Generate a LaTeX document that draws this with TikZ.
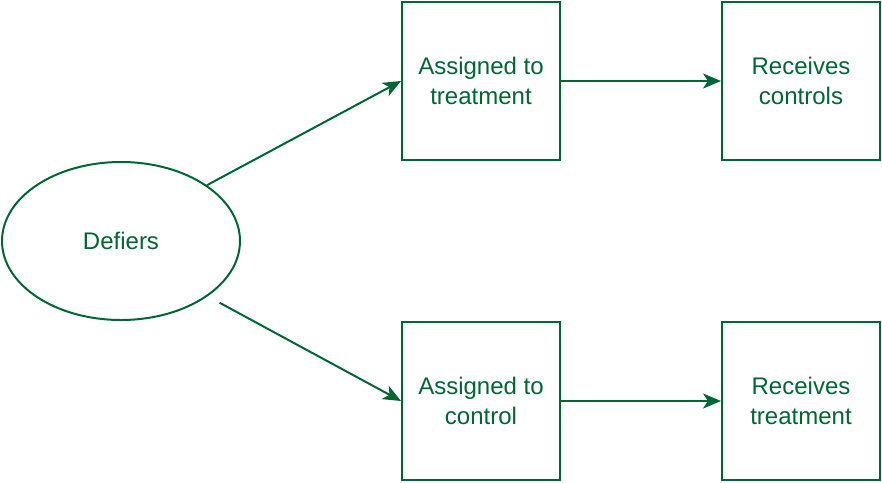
\documentclass[tikz,border=0pt]{standalone}
\usepackage{fontspec}
\setmainfont{Liberation Sans}
\usetikzlibrary{arrows.meta, positioning, shapes.geometric}
\definecolor{defGreen}{HTML}{006633}

\begin{document}
\begin{tikzpicture}[
    x=1pt, y=-1pt,
    node distance=160pt,
    box/.style={rectangle, draw=defGreen, line width=2pt, fill=white,
                minimum width=158pt, minimum height=158pt, inner sep=0pt,
                align=center, text=defGreen,
                font=\fontsize{24}{30}\selectfont},
    ell/.style={ellipse, draw=defGreen, line width=2pt, fill=white,
                minimum width=238pt, minimum height=158pt, inner sep=0pt,
                text=defGreen, font=\fontsize{24}{30}\selectfont},
    link/.style={draw=defGreen, line width=2pt,
                 -{Stealth[length=18pt, width=15pt, inset=5pt]}},
  ]
    \useasboundingbox (0,0) rectangle (882,482);

    \node[ell] (def) at (121,241) {Defiers};
    \node[box] (asgT) at (481,81) {Assigned to\\treatment};
    \node[box, right=of asgT] (recC) {Receives\\controls};
    \node[box] (asgC) at (481,401) {Assigned to\\control};
    \node[box, right=of asgC] (recT) {Receives\\treatment};

    \draw[link] (def.33) -- (asgT.west);
    \draw[link] ([xshift=11pt,yshift=-7pt]def.-32) -- (asgC.west);
    \draw[link] (asgT) -- (recC);
    \draw[link] (asgC) -- (recT);
  \end{tikzpicture}
\end{document}
